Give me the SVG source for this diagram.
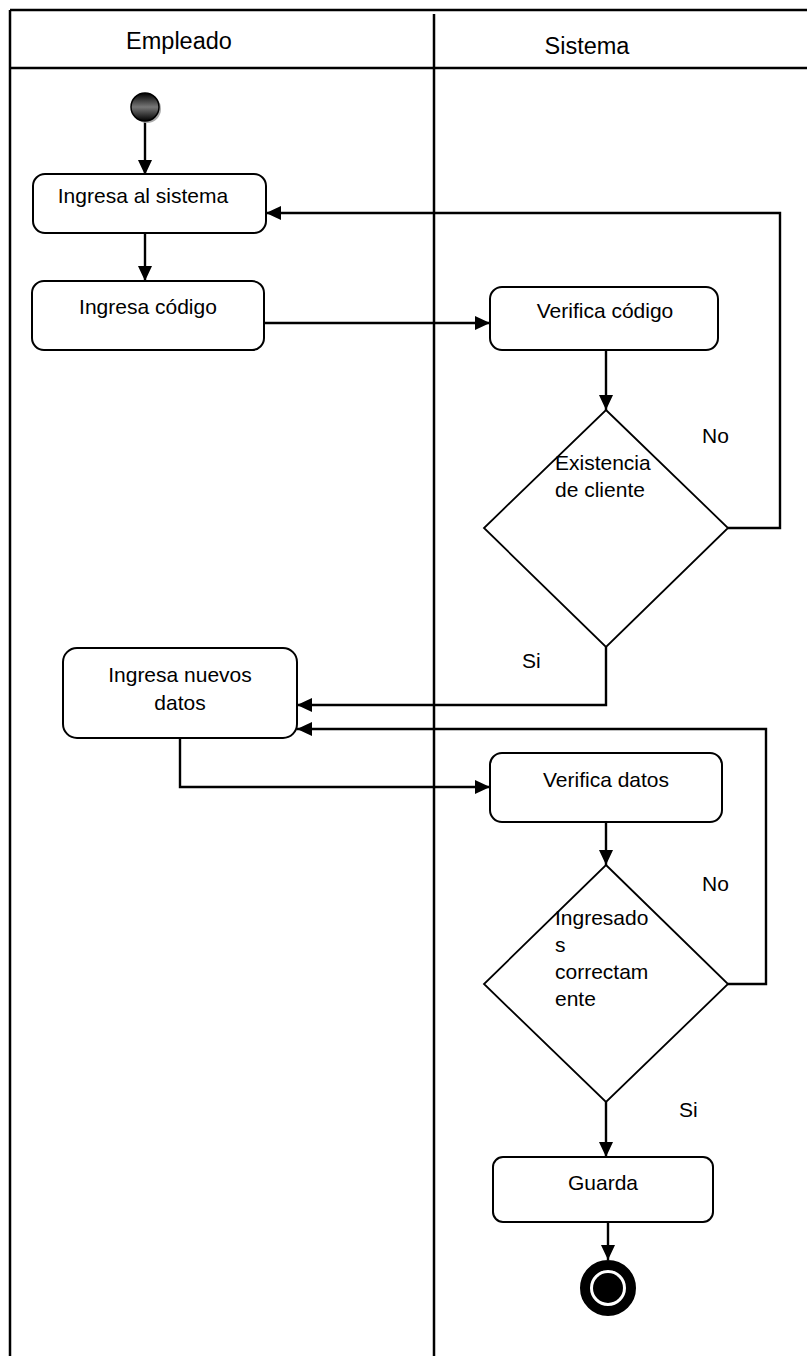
<svg xmlns="http://www.w3.org/2000/svg" width="807" height="1356" viewBox="0 0 807 1356">
<style>
.lane{stroke:#000;stroke-width:2.5;fill:none}
.box{fill:#fff;stroke:#000;stroke-width:2}
.dia{fill:#fff;stroke:#000;stroke-width:1.8}
.con{fill:none;stroke:#000;stroke-width:2.4;marker-end:url(#arr)}
.t{font-family:"Liberation Sans",Arial,sans-serif;font-size:21px;fill:#000}
.h{font-family:"Liberation Sans",Arial,sans-serif;font-size:23.5px;fill:#000}
.c{text-anchor:middle}
</style>
<defs>
<marker id="arr" viewBox="0 0 15 14" refX="15" refY="7" markerWidth="15" markerHeight="14" markerUnits="userSpaceOnUse" orient="auto">
<path d="M0,0 L15,7 L0,14 z" fill="#000"/>
</marker>
<linearGradient id="ball" x1="0" y1="0" x2="0" y2="1">
<stop offset="0" stop-color="#000"/>
<stop offset="0.5" stop-color="#777"/>
<stop offset="1" stop-color="#000"/>
</linearGradient>
</defs>
<g id="lanes">
<path class="lane" d="M10,10 H807 M10,10 V1356 M10,68 H807 M434,14 V1356"/>
<text class="h c" x="179" y="49">Empleado</text>
<text class="h c" x="587" y="54">Sistema</text>
</g>
<g id="connectors">
<path class="con" d="M145,121 V175"/>
<path class="con" d="M145,233 V281"/>
<path class="con" d="M262,323 H490"/>
<path class="con" d="M606,350 V410"/>
<path class="con" d="M728,528 H780 V213 H266"/>
<path class="con" d="M606,647 V705 H297"/>
<path class="con" d="M180,738 V787 H490"/>
<path class="con" d="M606,822 V865"/>
<path class="con" d="M728,984 H766 V729 H297"/>
<path class="con" d="M606,1102 V1157"/>
<path class="con" d="M608,1222 V1260"/>
</g>
<g id="start">
<circle cx="147" cy="109" r="14" fill="#aaa"/>
<circle cx="145" cy="107" r="14" fill="url(#ball)" stroke="#000" stroke-width="1.5"/>
</g>
<g id="n1">
<rect class="box" x="33" y="174" width="233" height="59" rx="12"/>
<text class="t c" x="143" y="203">Ingresa al sistema</text>
</g>
<g id="n2">
<rect class="box" x="32" y="281" width="232" height="69" rx="12"/>
<text class="t c" x="148" y="314">Ingresa código</text>
</g>
<g id="n3">
<rect class="box" x="490" y="287" width="228" height="63" rx="12"/>
<text class="t c" x="605" y="318">Verifica código</text>
</g>
<g id="d1">
<polygon class="dia" points="606,410 728,528 606,647 484,528"/>
<text class="t" x="555" y="470">Existencia</text>
<text class="t" x="555" y="497">de cliente</text>
</g>
<text class="t" x="702" y="443">No</text>
<text class="t" x="522" y="668">Si</text>
<g id="n4">
<rect class="box" x="63" y="648" width="234" height="90" rx="14"/>
<text class="t c" x="180" y="682">Ingresa nuevos</text>
<text class="t c" x="180" y="710">datos</text>
</g>
<g id="n5">
<rect class="box" x="490" y="753" width="232" height="69" rx="12"/>
<text class="t c" x="606" y="787">Verifica datos</text>
</g>
<g id="d2">
<polygon class="dia" points="606,865 728,984 606,1102 484,984"/>
<text class="t" x="555" y="925">Ingresado</text>
<text class="t" x="555" y="952">s</text>
<text class="t" x="555" y="979">correctam</text>
<text class="t" x="555" y="1006">ente</text>
</g>
<text class="t" x="702" y="891">No</text>
<text class="t" x="679" y="1117">Si</text>
<g id="n6">
<rect class="box" x="493" y="1157" width="220" height="65" rx="10"/>
<text class="t c" x="603" y="1190">Guarda</text>
</g>
<g id="end">
<circle cx="608" cy="1288" r="23" fill="#fff" stroke="#000" stroke-width="10"/>
<circle cx="608" cy="1288" r="15" fill="#000"/>
</g>
</svg>
